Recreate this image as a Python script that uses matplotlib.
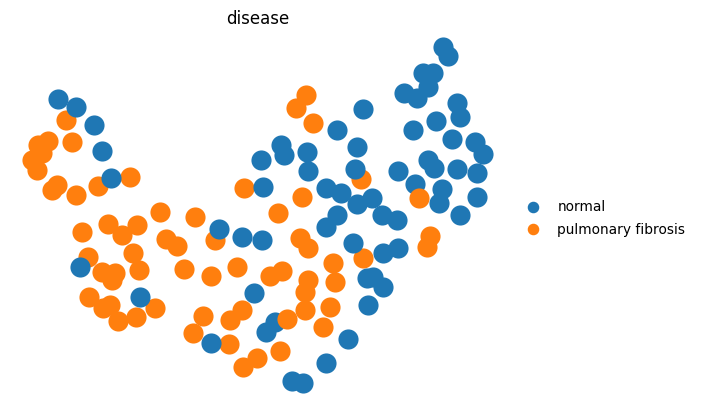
import matplotlib.pyplot as plt
from matplotlib.lines import Line2D

# UMAP embedding (screen-like units, y grows downward)
umap1 = [
    66, 38, 48, 42, 32, 37, 72, 57, 52, 76, 98, 130, 160, 195, 108, 137, 122, 82,
    166, 177, 133, 88, 102, 115, 112, 139, 184, 211, 89, 103, 110, 118, 136, 155,
    203, 193, 215, 244, 302, 278, 237, 270, 282, 300, 308, 308, 305, 305, 242, 230,
    229, 280, 257, 243, 306, 296, 313, 361, 333, 363, 335, 330, 323, 430, 427,
    58, 76, 94, 102, 111, 80, 140, 219, 242, 262, 254, 275, 266, 211, 292, 303,
    326, 348, 368, 383, 367, 373, 353, 383, 398, 326, 337, 357, 372, 382, 397,
    363, 337, 281, 284, 307, 261, 308, 357, 355, 263, 326, 341, 443, 448, 423,
    433, 428, 404, 417, 457, 460, 436, 413, 452, 475, 483, 428, 434, 457, 398,
    477, 415, 442, 439, 477, 460,
    287, 419,
]
umap2 = [
    120, 145, 141, 153, 160, 170, 142, 185, 190, 195, 186, 177, 212, 217, 224, 225, 235, 232,
    239, 246, 253, 257, 272, 273, 280, 270, 269, 276, 297, 308, 305, 321, 317, 308,
    316, 333, 240, 188, 197, 213, 267, 276, 271, 238, 248, 280, 292, 310, 310, 320,
    344, 351, 358, 367, 95, 108, 123, 179, 263, 258, 282, 307, 327, 236, 247,
    99, 107, 125, 151, 178, 267, 297, 229, 237, 240, 293, 322, 332, 343, 381, 383,
    363, 339, 305, 287, 278, 277, 243, 253, 248, 227, 215, 204, 198, 215, 220,
    109, 130, 145, 155, 152, 160, 171, 147, 169, 187, 188, 193, 47, 56, 73,
    73, 87, 93, 98, 103, 117, 121, 130, 139, 142, 154, 160, 168, 169, 171,
    173, 184, 189, 203, 197, 215,
    319, 198,
]
# plotting order: most fibrosis cells, then normal cells, then two fibrosis cells on top
disease = ["pulmonary fibrosis"] * 65 + ["normal"] * 67 + ["pulmonary fibrosis"] * 2

categories = ["normal", "pulmonary fibrosis"]
palette = {"normal": "#1f77b4", "pulmonary fibrosis": "#ff7f0e"}

W, H = 702, 411
fig = plt.figure(figsize=(W / 100, H / 100), dpi=100)
# axes placed in pixel terms
left, right, top, bottom = 10, 505, 31, 400
ax = fig.add_axes([left / W, 1 - bottom / H, (right - left) / W, (bottom - top) / H])

colors = [palette[d] for d in disease]
ax.scatter(umap1, umap2, c=colors, s=210, linewidths=0)

ax.set_xlim(left - 0.5, right - 0.5)
ax.set_ylim(bottom - 0.5, top - 0.5)
ax.set_xticks([])
ax.set_yticks([])
for sp in ax.spines.values():
    sp.set_visible(False)
ax.set_title("disease", fontsize=12, pad=4.8)

handles = [
    Line2D([], [], marker="o", ls="", color=palette[c], markersize=7.3, label=c)
    for c in categories
]
fig.legend(
    handles=handles,
    loc="center left",
    bbox_to_anchor=(506.5 / W, 1 - 218.5 / H),
    frameon=False,
    fontsize=9.9,
    handletextpad=0.8,
    labelspacing=0.6,
)

fig.savefig("out.png", dpi=100)
